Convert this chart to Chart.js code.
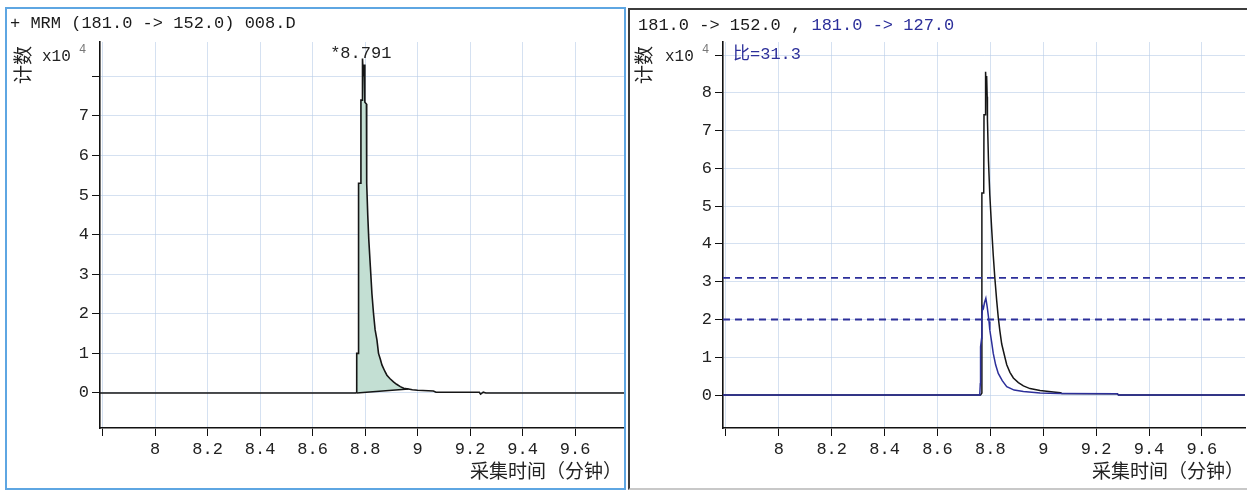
<!DOCTYPE html>
<html><head><meta charset="utf-8">
<script src="https://cdn.jsdelivr.net/npm/chart.js@4.4.1/dist/chart.umd.min.js"></script>
<style>
html,body{margin:0;padding:0;background:#fff;}
#wrap{position:relative;width:1247px;height:491px;overflow:hidden;background:#fff;}
canvas{position:absolute;top:0;}
#c1{left:0;} #c2{left:628px;}
.frame{position:absolute;pointer-events:none;box-sizing:border-box;}
</style></head><body>
<div id="wrap">
<canvas id="c1" width="628" height="491"></canvas>
<canvas id="c2" width="619" height="491"></canvas>
<div class="frame" style="left:5px;top:7px;width:621px;height:483px;border:2px solid #5ea6e2;"></div>
<div class="frame" style="left:628px;top:8px;width:625px;height:482px;border:2px solid #3c3c3c;border-bottom-color:#c8c8c8;"></div>
</div>
<script>
// ---------- tick labels ----------
const xTickValues = [7.8, 8.0, 8.2, 8.4, 8.6, 8.8, 9.0, 9.2, 9.4, 9.6];
const xTickLabels = ['', '8', '8.2', '8.4', '8.6', '8.8', '9', '9.2', '9.4', '9.6'];
const leftYTickValues = [0, 1, 2, 3, 4, 5, 6, 7, 8];
const leftYTickLabels = ['0', '1', '2', '3', '4', '5', '6', '7', ''];
const rightYTickValues = [0, 1, 2, 3, 4, 5, 6, 7, 8, 9];
const rightYTickLabels = ['0', '1', '2', '3', '4', '5', '6', '7', '8', ''];

// ---------- left panel: MRM 181.0 -> 152.0 (counts x10^4) ----------
const leftTimes  = [7.79, 8.765, 8.768, 8.768, 8.774, 8.775, 8.783, 8.784, 8.789, 8.790, 8.793, 8.796, 8.799, 8.805, 8.806, 8.810, 8.814, 8.820, 8.826, 8.832, 8.838, 8.845, 8.851, 8.858, 8.864, 8.875, 8.883, 8.895, 8.908, 8.920, 8.934, 8.947, 8.965, 8.980, 9.000, 9.060, 9.070, 9.235, 9.240, 9.250, 9.260, 9.79];
const leftCounts = [0,    0,     0.02,  1.0,   1.0,   5.3,   5.3,   7.4,   7.4,   8.45,  8.0,   8.3,   7.35,  7.3,   5.3,   4.5,   3.87,  3.19,  2.5,   2.01,  1.6,   1.34,  1.0,   0.85,  0.71,  0.55,  0.45,  0.36,  0.28,  0.22,  0.16,  0.12,  0.10,  0.08,  0.07,  0.05,  0.02,  0.02,  -0.03, 0.02,  0,     0];
const peakStartTime = 8.768;
const peakEndTime = 8.965;
const integrationBaseTimes = [8.768, 8.965];
const integrationBaseCounts = [0, 0.10];
const peakLabelTime = 8.791;
const peakLabelText = '*8.791';

// ---------- right panel: 181.0 -> 152.0 (black) and 181.0 -> 127.0 (blue) ----------
const quantTimes  = [7.789, 8.763, 8.768, 8.768, 8.775, 8.776, 8.781, 8.782, 8.784, 8.786, 8.788, 8.789, 8.793, 8.798, 8.805, 8.811, 8.817, 8.824, 8.830, 8.836, 8.843, 8.855, 8.862, 8.874, 8.887, 8.906, 8.925, 8.950, 8.988, 9.038, 9.065, 9.070, 9.280, 9.285, 9.763];
const quantCounts = [0,     0,     0.05,  5.35,  5.35,  7.42,  7.42,  8.56,  8.1,   8.45,  7.9,   7.3,   6.2,   5.3,   4.4,   3.7,   3.1,   2.5,   2.05,  1.7,   1.35,  1.0,   0.8,   0.6,   0.45,  0.33,  0.24,  0.17,  0.12,  0.08,  0.06,  0.04,  0.03,  0,     0];
const qualTimes  = [7.789, 8.760, 8.762, 8.763, 8.767, 8.768, 8.771, 8.774, 8.778, 8.783, 8.788, 8.795, 8.798, 8.805, 8.811, 8.820, 8.830, 8.845, 8.862, 8.890, 8.925, 8.988, 9.060, 9.280, 9.285, 9.763];
const qualCounts = [0,     0,     0.3,   1.28,  1.5,   2.1,   2.34,  2.3,   2.45,  2.56,  2.34,  1.95,  1.72,  1.4,   1.1,   0.8,   0.57,  0.38,  0.22,  0.13,  0.09,  0.05,  0.04,  0.03,  0,     0];
const qualifierLimits = [3.1, 2.0];
const ratioText = '比=31.3';

// ---------- styles ----------
const MONO = '"Liberation Mono", "DejaVu Sans Mono", monospace';
const CJK = '"Noto Sans CJK SC", "Noto Sans", sans-serif';
const BLACK = '#161616';
const BLUE = '#2c2f9a';
const GRID = 'rgba(185,205,232,0.6)';
const FILL = '#c3dfd3';

const pts = (xs, ys) => xs.map((x, i) => ({ x, y: ys[i] }));

const panelText = {
  id: 'panelText',
  afterDraw(chart, args, o) {
    const ctx = chart.ctx;
    ctx.save();
    ctx.textBaseline = 'middle';
    ctx.font = '17px ' + MONO;
    ctx.textAlign = 'left';
    let x = o.titleX;
    for (const [txt, col] of o.titleParts) {
      ctx.fillStyle = col;
      ctx.fillText(txt, x, o.titleY);
      x += ctx.measureText(txt).width;
    }
    ctx.save();
    ctx.translate(o.countX, 84);
    ctx.rotate(-Math.PI / 2);
    ctx.font = '19px ' + CJK;
    ctx.fillStyle = '#222';
    ctx.textAlign = 'left';
    ctx.fillText('计数', 0, 0);
    ctx.restore();
    ctx.font = '16px ' + MONO;
    ctx.fillStyle = '#222';
    ctx.fillText('x10', o.multX, 57);
    ctx.font = '12px ' + MONO;
    ctx.fillStyle = '#777';
    ctx.fillText('4', o.multX + 37, 50);
    ctx.font = '19px ' + CJK;
    ctx.fillStyle = '#222';
    ctx.textAlign = 'right';
    ctx.fillText('采集时间（分钟）', o.xTitleRight, 471);
    if (o.peakLabel) {
      ctx.font = '17px ' + MONO;
      ctx.fillStyle = '#222';
      ctx.textAlign = 'center';
      ctx.fillText(o.peakLabel, chart.scales.x.getPixelForValue(o.peakTime) - 2, 53);
    }
    if (o.ratio) {
      ctx.font = '17px ' + MONO + ', ' + CJK;
      ctx.fillStyle = BLUE;
      ctx.textAlign = 'left';
      ctx.fillText(o.ratio, o.ratioX, 54);
    }
    ctx.restore();
  }
};

function scalesFor(xMin, xMax, yMin, yMax, yTicks, yLabels, yWidth) {
  return {
    x: {
      type: 'linear', min: xMin, max: xMax,
      afterBuildTicks: s => { s.ticks = xTickValues.map(v => ({ value: v })); },
      afterFit: s => { s.height = 63; },
      ticks: {
        callback: (v, i) => xTickLabels[i],
        color: '#222', font: { family: MONO, size: 17 }, padding: 3, maxRotation: 0, autoSkip: false
      },
      grid: { color: GRID, lineWidth: 1, tickColor: '#111', tickLength: 8, drawTicks: true },
      border: { color: '#111', width: 1.6 }
    },
    y: {
      type: 'linear', min: yMin, max: yMax,
      afterBuildTicks: s => { s.ticks = yTicks.map(v => ({ value: v })); },
      afterFit: s => { s.width = yWidth; },
      ticks: {
        callback: (v, i) => yLabels[i],
        color: '#222', font: { family: MONO, size: 17 }, padding: 3, autoSkip: false
      },
      grid: { color: GRID, lineWidth: 1, tickColor: '#111', tickLength: 8, drawTicks: true },
      border: { color: '#111', width: 1.6 }
    }
  };
}

const common = { type: 'line', plugins: [panelText] };

const fillIdx = leftTimes.map((t, i) => i).filter(i => leftTimes[i] >= peakStartTime && leftTimes[i] <= peakEndTime);
new Chart(document.getElementById('c1'), {
  ...common,
  data: {
    datasets: [
      { data: pts(leftTimes, leftCounts), borderColor: BLACK, borderWidth: 1.6, pointRadius: 0, fill: false, tension: 0 },
      { data: pts(integrationBaseTimes, integrationBaseCounts), borderColor: BLACK, borderWidth: 1.4, pointRadius: 0, fill: false },
      { data: fillIdx.map(i => ({ x: leftTimes[i], y: leftCounts[i] })), borderWidth: 0, borderColor: 'rgba(0,0,0,0)', backgroundColor: FILL, pointRadius: 0, fill: '-1', order: 1 }
    ]
  },
  options: {
    responsive: false, animation: false, events: [],
    layout: { padding: { top: 42, right: 3, left: 0, bottom: 0 } },
    scales: scalesFor(7.79, 9.79, -0.885, 8.87, leftYTickValues, leftYTickLabels, 100),
    plugins: {
      legend: { display: false }, tooltip: { enabled: false },
      panelText: {
        titleX: 10, titleY: 23,
        titleParts: [['+ MRM (181.0 -> 152.0) 008.D', '#1a1a1a']],
        countX: 23, multX: 42, xTitleRight: 622,
        peakLabel: peakLabelText, peakTime: peakLabelTime
      }
    }
  }
});

const rXMin = 7.789, rXMax = 9.763;
new Chart(document.getElementById('c2'), {
  ...common,
  data: {
    datasets: [
      ...qualifierLimits.map(v => ({ data: [{ x: rXMin, y: v }, { x: rXMax, y: v }], borderColor: BLUE, borderWidth: 1.8, borderDash: [7, 5], pointRadius: 0, fill: false })),
      { data: pts(qualTimes, qualCounts), borderColor: BLUE, borderWidth: 1.5, pointRadius: 0, fill: false, tension: 0 },
      { data: pts(quantTimes, quantCounts), borderColor: BLACK, borderWidth: 1.5, pointRadius: 0, fill: false, tension: 0 }
    ]
  },
  options: {
    responsive: false, animation: false, events: [],
    layout: { padding: { top: 42, right: 2, left: 0, bottom: 0 } },
    scales: scalesFor(rXMin, rXMax, -0.874, 9.35, rightYTickValues, rightYTickLabels, 95),
    plugins: {
      legend: { display: false }, tooltip: { enabled: false },
      panelText: {
        titleX: 10, titleY: 25,
        titleParts: [['181.0 -> 152.0 , ', '#1a1a1a'], ['181.0 -> 127.0', BLUE]],
        countX: 16, multX: 37, xTitleRight: 616,
        ratio: ratioText, ratioX: 105
      }
    }
  }
});
</script>
</body></html>
